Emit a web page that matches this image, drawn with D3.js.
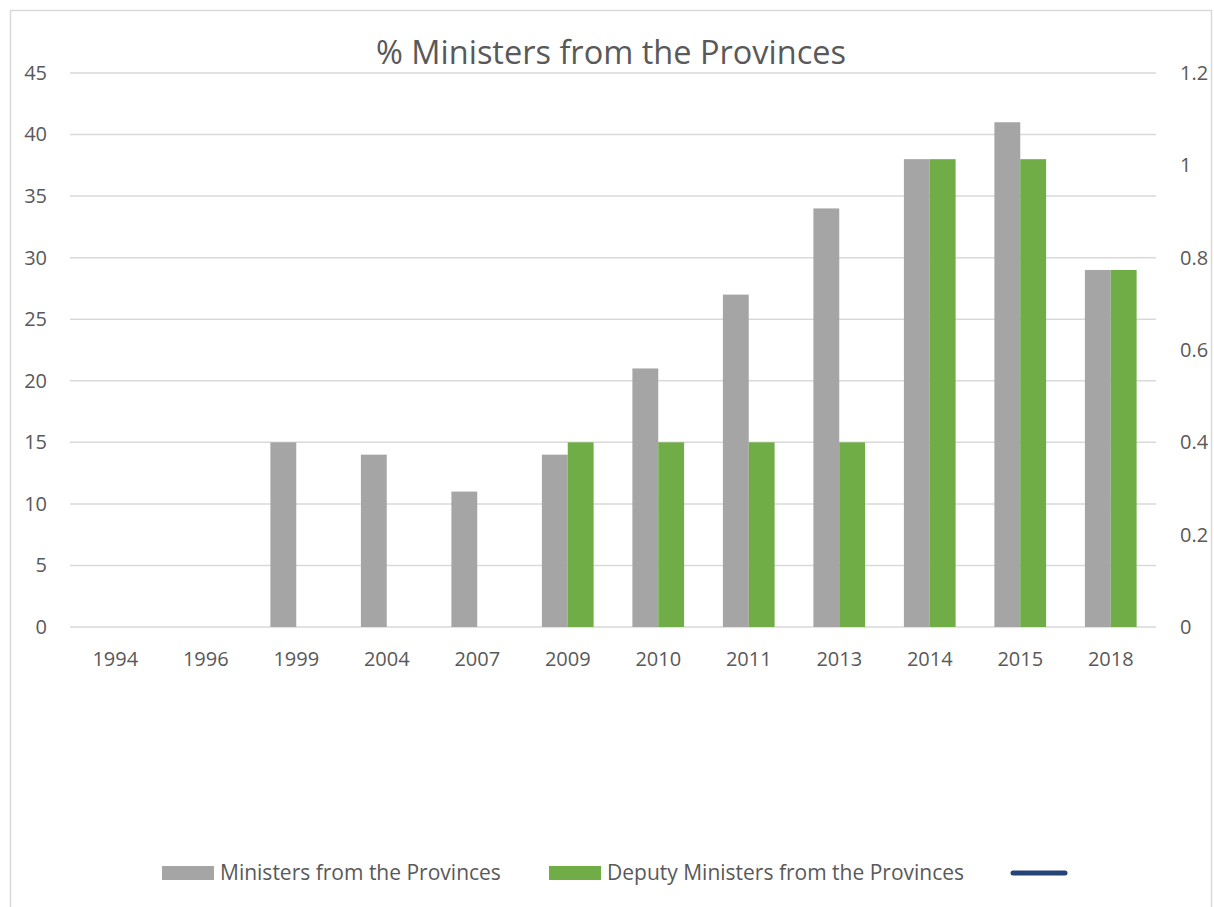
<!DOCTYPE html>
<html>
<head>
<meta charset="utf-8">
<script src="https://cdn.jsdelivr.net/npm/d3@7"></script>
<style>
  body { margin: 0; background: #fff; }
  text { font-family: "Open Sans", sans-serif; fill: #595959; }
</style>
</head>
<body>
<div id="chart"></div>
<script>
// chart data
var years = ['1994', '1996', '1999', '2004', '2007', '2009', '2010', '2011', '2013', '2014', '2015', '2018']
var ministers = [0, 0, 15, 14, 11, 14, 21, 27, 34, 38, 41, 29]
var deputies = [0, 0, 0, 0, 0, 15, 15, 15, 15, 38, 38, 29]
var thirdLine = [] // empty line series on secondary axis, only shows in legend
var leftTicks = [0, 5, 10, 15, 20, 25, 30, 35, 40, 45]
var rightTicks = [0, 0.2, 0.4, 0.6, 0.8, 1, 1.2]
var seriesNames = ['Ministers from the Provinces', 'Deputy Ministers from the Provinces', '']

var width = 1214, height = 907;
var margin = {top: 73, left: 70, right: 58, bottom: 280};
var plotW = width - margin.left - margin.right;
var plotH = 627 - margin.top;

var svg = d3.select('#chart').append('svg')
  .attr('width', width)
  .attr('height', height)

// outer border of chart area
svg.append('rect')
  .attr('x', 10.5).attr('y', 10.5)
  .attr('width', 1201).attr('height', 910)
  .attr('fill', 'none')
  .attr('stroke', '#d9d9d9')
  .attr('stroke-width', 1.5)

var g = svg.append('g')
  .attr('transform', 'translate(' + margin.left + ',' + margin.top + ')')

var xScale = d3.scaleBand()
  .domain(years)
  .range([0, plotW])

var barW = xScale.bandwidth() / 3.5;

var yLeft = d3.scaleLinear().domain([0, 45]).range([plotH, 0])
var yRight = d3.scaleLinear().domain([0, 1.2]).range([plotH, 0])

// gridlines
g.selectAll('.grid')
  .data(leftTicks)
  .enter().append('line')
  .attr('x1', 0).attr('x2', plotW)
  .attr('y1', d => yLeft(d)).attr('y2', d => yLeft(d))
  .attr('stroke', '#d9d9d9')
  .attr('stroke-width', 1.5)

// left axis
var leftAxis = g.append('g')
  .call(d3.axisLeft(yLeft).tickValues(leftTicks).tickSize(0).tickPadding(23))
leftAxis.select('.domain').remove()
leftAxis.selectAll('text').style('font-size', '20px').attr('fill', '#595959')

// right axis
var rightAxis = g.append('g')
  .attr('transform', 'translate(' + plotW + ',0)')
  .call(d3.axisRight(yRight).tickValues(rightTicks).tickSize(0).tickPadding(24)
    .tickFormat(d => String(+d.toFixed(1))))
rightAxis.select('.domain').remove()
rightAxis.selectAll('text').style('font-size', '20px').attr('fill', '#595959')

// x axis labels
var xAxis = g.append('g')
  .attr('transform', 'translate(0,' + plotH + ')')
  .call(d3.axisBottom(xScale).tickSize(0).tickPadding(25))
xAxis.select('.domain').remove()
xAxis.selectAll('text').style('font-size', '20px').attr('fill', '#595959')

// bars
g.selectAll('.bar-min')
  .data(ministers)
  .enter().append('rect')
  .attr('class', 'bar-min')
  .attr('x', (d, i) => xScale(years[i]) + xScale.bandwidth() / 2 - barW)
  .attr('y', d => yLeft(d))
  .attr('width', barW)
  .attr('height', d => plotH - yLeft(d))
  .attr('fill', '#a5a5a5')

g.selectAll('.bar-dep')
  .data(deputies)
  .enter().append('rect')
  .attr('class', 'bar-dep')
  .attr('x', (d, i) => xScale(years[i]) + xScale.bandwidth() / 2)
  .attr('y', d => yLeft(d))
  .attr('width', barW)
  .attr('height', d => plotH - yLeft(d))
  .attr('fill', '#70ad47')

// title
svg.append('text')
  .attr('x', 611)
  .attr('y', 64)
  .attr('text-anchor', 'middle')
  .style('font-size', '32.5px')
  .text('% Ministers from the Provinces')

// legend
var legend = svg.append('g')
legend.append('rect').attr('x', 162).attr('y', 866).attr('width', 52).attr('height', 14).attr('fill', '#a5a5a5')
legend.append('text').attr('x', 220).attr('y', 880).style('font-size', '21px').text(seriesNames[0])
legend.append('rect').attr('x', 549).attr('y', 866).attr('width', 52).attr('height', 14).attr('fill', '#70ad47')
legend.append('text').attr('x', 607).attr('y', 880).style('font-size', '21px').text(seriesNames[1])
legend.append('line')
  .attr('x1', 1013).attr('x2', 1065).attr('y1', 873).attr('y2', 873)
  .attr('stroke', '#264478').attr('stroke-width', 5).attr('stroke-linecap', 'round')
</script>
</body>
</html>
